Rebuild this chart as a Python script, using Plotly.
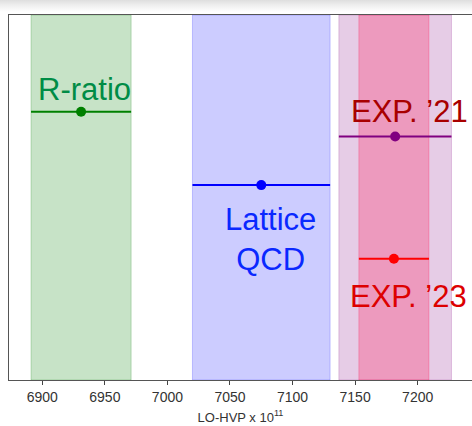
import plotly.graph_objects as go

# ---- data ----
labels = ["R-ratio", "Lattice<br>QCD", "EXP. \u201921", "EXP. \u201923"]
centers = [6931, 7075, 7182, 7181]
errors = [40, 55, 45, 28]
rows = [0.735, 0.534, 0.667, 0.332]          # vertical level of each measurement
band_lo = [6891, 7020, 7137, 7153]
band_hi = [6971, 7130, 7227, 7209]
x_ticks = [6900, 6950, 7000, 7050, 7100, 7150, 7200]
x_range = [6873.4, 7243.4]

line_colors = ["#008000", "#0000ff", "#800080", "#ff0000"]
band_colors = ["rgba(0,128,0,0.22)", "rgba(0,0,255,0.2)", "rgba(128,0,128,0.2)", "rgba(255,40,100,0.3)"]
text_colors = ["#008c46", "#0a28ff", "#a80000", "#dd0000"]

fig = go.Figure()

# bands
for lo, hi, c in zip(band_lo, band_hi, band_colors):
    fig.add_shape(type="rect", xref="x", yref="y", x0=lo, x1=hi, y0=0, y1=1,
                  fillcolor=c, line=dict(width=1, color=c), layer="below")

# error bars
for x, e, y, c in zip(centers, errors, rows, line_colors):
    fig.add_trace(go.Scatter(
        x=[x], y=[y], mode="markers",
        marker=dict(color=c, size=10),
        error_x=dict(type="data", array=[e], color=c, thickness=2, width=0),
        showlegend=False, hoverinfo="skip"))

# labels
text_pos = [(6933.8, 0.797, "center"), (7082.3, 0.385, "center"),
            (7145.2, 0.735, "left"), (7144.4, 0.230, "left")]
for (tx, ty, anc), t, c in zip(text_pos, labels, text_colors):
    fig.add_annotation(x=tx, y=ty, xref="x", yref="y", text=t, showarrow=False,
                       xanchor=anc, yanchor="middle",
                       font=dict(family="Liberation Sans, Arial", size=31, color=c))

fig.update_layout(
    width=472, height=426,
    margin=dict(l=9, r=0, t=15, b=46),
    paper_bgcolor="rgba(0,0,0,0)", plot_bgcolor="white",
    font=dict(family="Liberation Sans, Arial", color="#333333"),
    xaxis=dict(range=x_range, tickvals=x_ticks, ticks="outside", ticklen=4,
               tickcolor="#444", tickfont=dict(size=14, color="#333"),
               showgrid=False, zeroline=False, showline=True, linecolor="#555",
               linewidth=1.3, mirror=True,
               title=dict(text="LO-HVP x 10<sup>11</sup>", font=dict(size=13, color="#333"),
                          standoff=8)),
    yaxis=dict(range=[0, 1], showticklabels=False, ticks="", showgrid=False,
               zeroline=False, showline=True, linecolor="#555", linewidth=1.3,
               mirror=False),
)

fig.write_html(
    "out.html",
    config={"displayModeBar": False},
    post_script=("document.body.style.margin='0';document.body.style.overflow='hidden';"
                 "document.body.style.background='linear-gradient(to bottom,#dedede 0px,#eeeeee 5px,#ffffff 12px,#ffffff 100%)';"),
)
